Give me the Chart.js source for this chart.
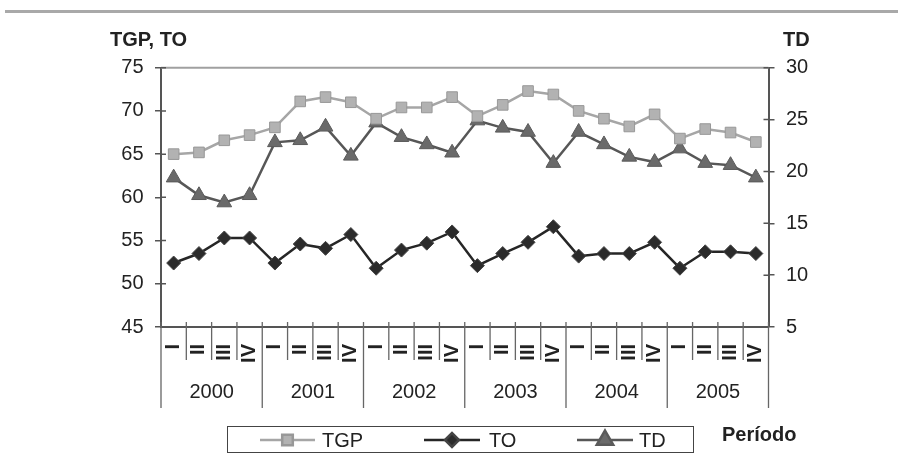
<!DOCTYPE html>
<html>
<head>
<meta charset="utf-8">
<script src="https://cdn.jsdelivr.net/npm/chart.js@4/dist/chart.umd.min.js"></script>
<style>
  html, body { margin: 0; padding: 0; background: #fff; }
  #wrap { width: 898px; height: 461px; position: relative; }
</style>
</head>
<body>
<div id="wrap"><canvas id="chart"></canvas></div>
<script>
// Data.
const years = ['2000', '2001', '2002', '2003', '2004', '2005'];
const quarters = ['I', 'II', 'III', 'IV'];
const tgp = [65.0, 65.2, 66.6, 67.2, 68.1, 71.1, 71.6, 71.0, 69.1, 70.4, 70.4, 71.6,
             69.4, 70.7, 72.3, 71.9, 70.0, 69.1, 68.2, 69.6, 66.8, 67.9, 67.5, 66.4];
const to = [52.4, 53.5, 55.3, 55.3, 52.4, 54.6, 54.1, 55.7, 51.8, 53.9, 54.7, 56.0,
            52.1, 53.5, 54.8, 56.6, 53.2, 53.5, 53.5, 54.8, 51.8, 53.7, 53.7, 53.5];
const td = [19.4, 17.7, 17.0, 17.7, 22.8, 23.0, 24.3, 21.5, 24.7, 23.3, 22.6, 21.8,
            24.9, 24.2, 23.8, 20.8, 23.8, 22.6, 21.4, 20.9, 22.2, 20.8, 20.6, 19.4];
const leftTicks = { min: 45, max: 75, step: 5 };
const rightTicks = { min: 5, max: 30, step: 5 };

// One label per quarter, repeated for each year.
const labels = years.flatMap(() => quarters);

const FONT = '"Liberation Sans", Arial, sans-serif';
const AXIS = '#555';

// Draws everything Excel put around the plot: titles, the two-level axis, the legend.
const decorations = {
    id: 'decorations',
    beforeDraw(chart) {
        const ctx = chart.ctx;
        ctx.save();
        ctx.fillStyle = '#a9a9a9';
        ctx.fillRect(5, 10, 893, 3);
        ctx.restore();
    },
    afterDraw(chart) {
        const ctx = chart.ctx;
        const area = chart.chartArea;
        const x = chart.scales.x;
        const yl = chart.scales.y;
        const yr = chart.scales.y1;
        ctx.save();

        // top border of the plot
        ctx.strokeStyle = '#a0a0a0';
        ctx.lineWidth = 2;
        ctx.beginPath();
        ctx.moveTo(area.left, area.top);
        ctx.lineTo(area.right, area.top);
        ctx.stroke();

        // inner half of the value-axis ticks
        ctx.strokeStyle = AXIS;
        ctx.lineWidth = 1.5;
        ctx.beginPath();
        yl.ticks.forEach(t => {
            const py = yl.getPixelForValue(t.value);
            ctx.moveTo(area.left, py);
            ctx.lineTo(area.left + 5, py);
        });
        yr.ticks.forEach(t => {
            const py = yr.getPixelForValue(t.value);
            ctx.moveTo(area.right - 5, py);
            ctx.lineTo(area.right, py);
        });
        ctx.stroke();

        // category separators: short between quarters, long between years
        const n = labels.length;
        ctx.strokeStyle = '#666';
        ctx.lineWidth = 1.3;
        ctx.beginPath();
        for (let b = 0; b <= n; b++) {
            let bx;
            if (b === 0) bx = area.left;
            else if (b === n) bx = area.right;
            else bx = (x.getPixelForValue(b - 1) + x.getPixelForValue(b)) / 2;
            const yearEdge = b % quarters.length === 0;
            ctx.moveTo(bx, area.bottom - 5);
            ctx.lineTo(bx, yearEdge ? 408 : 360);
        }
        ctx.stroke();

        // year labels
        ctx.fillStyle = '#222';
        ctx.font = '20px ' + FONT;
        ctx.textAlign = 'center';
        ctx.textBaseline = 'middle';
        years.forEach((yr2, i) => {
            const a = x.getPixelForValue(i * 4);
            const b = x.getPixelForValue(i * 4 + 3);
            ctx.fillText(yr2, (a + b) / 2, 392);
        });

        // axis titles
        ctx.font = 'bold 20px ' + FONT;
        ctx.textAlign = 'left';
        ctx.textBaseline = 'alphabetic';
        ctx.fillText('TGP, TO', 110, 45.5);
        ctx.fillText('TD', 783, 45.5);
        ctx.fillText('Período', 722, 441);

        // legend
        ctx.strokeStyle = '#444';
        ctx.lineWidth = 1;
        ctx.strokeRect(227.5, 426.5, 466, 26);
        const items = [
            { ds: 0, x1: 260, x2: 315, tx: 322, r: 7.5 },
            { ds: 1, x1: 424, x2: 480, tx: 489, r: 7 },
            { ds: 2, x1: 577, x2: 633, tx: 639, r: 9.5 }
        ];
        const ly = 440;
        items.forEach(it => {
            const ds = chart.data.datasets[it.ds];
            ctx.strokeStyle = ds.borderColor;
            ctx.lineWidth = ds.borderWidth;
            ctx.beginPath();
            ctx.moveTo(it.x1, ly);
            ctx.lineTo(it.x2, ly);
            ctx.stroke();
            ctx.fillStyle = ds.pointBackgroundColor;
            ctx.strokeStyle = ds.pointBorderColor;
            Chart.helpers.drawPoint(ctx, {
                pointStyle: ds.pointStyle, rotation: 0,
                radius: it.r, borderWidth: ds.pointBorderWidth
            }, (it.x1 + it.x2) / 2, ly);
            ctx.fillStyle = '#222';
            ctx.font = '20px ' + FONT;
            ctx.textBaseline = 'middle';
            ctx.fillText(ds.label, it.tx, ly + 1);
        });

        ctx.restore();
    }
};

new Chart(document.getElementById('chart'), {
    type: 'line',
    data: {
        labels: labels,
        datasets: [
            {
                label: 'TGP',
                data: tgp,
                yAxisID: 'y',
                borderColor: '#a6a6a6',
                borderWidth: 2.5,
                pointStyle: 'rect',
                pointRadius: 7.5,
                pointBackgroundColor: '#b2b2b2',
                pointBorderColor: '#989898',
                pointBorderWidth: 1,
                tension: 0
            },
            {
                label: 'TO',
                data: to,
                yAxisID: 'y',
                borderColor: '#262626',
                borderWidth: 2.5,
                pointStyle: 'rectRot',
                pointRadius: 7,
                pointBackgroundColor: '#2b2b2b',
                pointBorderColor: '#444',
                pointBorderWidth: 1,
                tension: 0
            },
            {
                label: 'TD',
                data: td,
                yAxisID: 'y1',
                borderColor: '#575757',
                borderWidth: 2.5,
                pointStyle: 'triangle',
                pointRadius: 8.5,
                pointBackgroundColor: '#6a6a6a',
                pointBorderColor: '#5a5a5a',
                pointBorderWidth: 1,
                tension: 0
            }
        ]
    },
    options: {
        responsive: true,
        maintainAspectRatio: false,
        animation: false,
        layout: { padding: { top: 67.7, left: 0, right: 0, bottom: 0 } },
        plugins: {
            legend: { display: false },
            title: { display: false },
            tooltip: { enabled: false }
        },
        scales: {
            x: {
                offset: true,
                grid: { display: false },
                border: { display: true, color: AXIS, width: 2 },
                ticks: {
                    autoSkip: false,
                    minRotation: 90,
                    maxRotation: 90,
                    padding: 9,
                    color: '#222',
                    font: { family: FONT, size: 20, weight: 'bold' }
                },
                afterFit(scale) { scale.height = 134; }
            },
            y: {
                position: 'left',
                min: leftTicks.min,
                max: leftTicks.max,
                ticks: { stepSize: leftTicks.step, padding: 11.5, color: '#222', font: { family: FONT, size: 20 } },
                grid: { drawOnChartArea: false, drawTicks: true, tickLength: 6, color: AXIS, lineWidth: 1.5 },
                border: { display: true, color: AXIS, width: 2 },
                afterFit(scale) { scale.width = 161; }
            },
            y1: {
                position: 'right',
                min: rightTicks.min,
                max: rightTicks.max,
                ticks: { stepSize: rightTicks.step, padding: 11.5, color: '#222', font: { family: FONT, size: 20 } },
                grid: { drawOnChartArea: false, drawTicks: true, tickLength: 6, color: AXIS, lineWidth: 1.5 },
                border: { display: true, color: AXIS, width: 2 },
                afterFit(scale) { scale.width = 129.5; }
            }
        }
    },
    plugins: [decorations]
});
</script>
</body>
</html>
